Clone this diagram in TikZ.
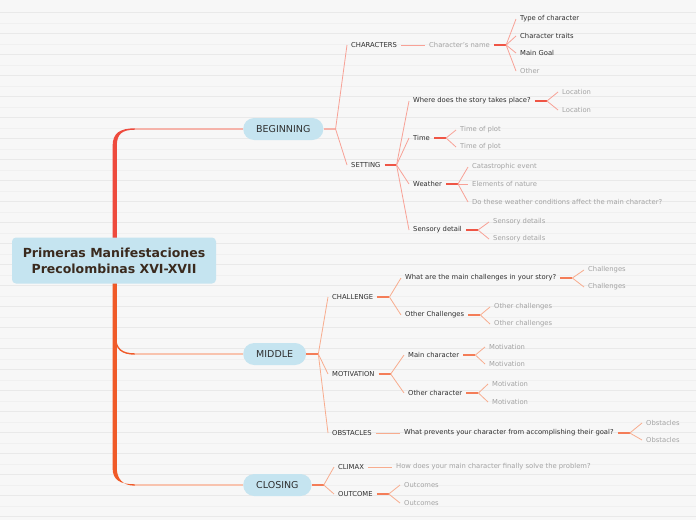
\documentclass[tikz,border=0pt]{standalone}
\usepackage{fontspec}
\setmainfont{DejaVu Sans}
\definecolor{bgc}{HTML}{F7F7F7}
\definecolor{bgline}{HTML}{E9E9E9}
\definecolor{bgfline}{HTML}{F0F0F0}
\definecolor{pillblue}{HTML}{C5E4F0}
\definecolor{roottext}{HTML}{3A2A1E}
\definecolor{darktext}{HTML}{2E2E2E}
\definecolor{graytext}{HTML}{A3A3A3}
\definecolor{trunkred}{HTML}{EE4A3D}
\definecolor{trunkorange}{HTML}{F05A28}
\definecolor{branchpink}{HTML}{F5B3AA}
\definecolor{branchorange}{HTML}{F8C3AE}
\definecolor{fanpink}{HTML}{F8A196}
\definecolor{stemred}{HTML}{EF5545}
\definecolor{fanorange}{HTML}{F8AC8E}
\definecolor{stemorange}{HTML}{F47D58}
\tikzset{
  leafd/.style={anchor=west, inner xsep=4pt, inner ysep=1pt, yshift=-1pt, text=darktext, font=\fontsize{6.8}{8}\selectfont},
  leafg/.style={leafd, text=graytext},
  pillnode/.style={anchor=west, fill=pillblue, rounded corners=11pt, minimum height=22pt, inner xsep=13pt, text=darktext, font=\fontsize{9.5}{11}\selectfont},
  rootnode/.style={fill=pillblue, rounded corners=4pt, minimum width=204pt, minimum height=46pt, align=center, text=roottext, font=\fontsize{12.5}{16}\selectfont\bfseries},
  fanB/.style={draw=fanpink, line width=0.8pt},
  stemB/.style={draw=stemred, line width=1.8pt},
  fanM/.style={draw=fanorange, line width=0.8pt},
  stemM/.style={draw=stemorange, line width=1.8pt},
  bgstrong/.style={draw=bgline, line width=0.7pt},
  bgfaint/.style={draw=bgfline, line width=0.6pt}
}
\begin{document}
\begin{tikzpicture}[x=1pt,y=-1pt]
\useasboundingbox[fill=bgc] (0,0) rectangle (696,520);
\foreach \k in {0,...,24}{
  \draw[bgstrong] (0,{12.7+21*\k}) -- (696,{12.7+21*\k});
  \draw[bgfaint] (0,{23.2+21*\k}) -- (696,{23.2+21*\k});
}
% trunk
\fill[trunkred] (112.6,262) -- (112.6,146) .. controls (112.6,133) and (120,128.3) .. (135,128.3) -- (135,129.7) .. controls (122,129.7) and (116.8,134) .. (116.8,146) -- (116.8,262) -- cycle;
\fill[trunkorange] (112.6,258) -- (112.6,468) .. controls (112.6,480) and (120,484.3) .. (135,484.3) -- (135,485.7) .. controls (122,485.7) and (116.8,478) .. (116.8,468) -- (116.8,258) -- cycle;
\draw[trunkorange, line width=1.4pt] (115.5,338) .. controls (116,349) and (122,354) .. (135,354);
% main nodes
\node[rootnode] (root) at (114,260.5) {Primeras Manifestaciones\\Precolombinas XVI-XVII};
\node[pillnode] (beg) at (243,129) {BEGINNING};
\node[pillnode] (mid) at (243,354) {MIDDLE};
\node[pillnode] (clo) at (243,485) {CLOSING};
\coordinate (hB) at (135,129);
\coordinate (hM) at (135,354);
\coordinate (hC) at (135,485);
\draw[draw=branchpink, line width=1.3pt] (hB) -- (beg.west);
\draw[draw=branchorange, line width=1.3pt] (hM) -- (mid.west);
\draw[draw=branchorange, line width=1.3pt] (hC) -- (clo.west);

% ---------- BEGINNING ----------
\node[leafd] (chars) at (347,44) {CHARACTERS};
\node[leafg] (cname) at (425,44) {Character's name};
\node[leafd] (t1) at (516,18) {Type of character};
\node[leafd] (t2) at (516,35) {Character traits};
\node[leafd] (t3) at (516,52) {Main Goal};
\node[leafg] (t4) at (516,70) {Other};
\node[leafd] (setting) at (347,164) {SETTING};
\node[leafd] (where) at (409,100) {Where does the story takes place?};
\node[leafd] (time) at (409,137) {Time};
\node[leafd] (weather) at (409,183) {Weather};
\node[leafd] (sensory) at (409,229) {Sensory detail};
\node[leafg] (loc1) at (558,91) {Location};
\node[leafg] (loc2) at (558,109) {Location};
\node[leafg] (tp1) at (456,129) {Time of plot};
\node[leafg] (tp2) at (456,146) {Time of plot};
\node[leafg] (w1) at (468,166) {Catastrophic event};
\node[leafg] (w2) at (468,183) {Elements of nature};
\node[leafg] (w3) at (468,201) {Do these weather conditions affect the main character?};
\node[leafg] (sd1) at (489,221) {Sensory details};
\node[leafg] (sd2) at (489,238) {Sensory details};

\coordinate (jB) at ([xshift=12pt]beg.east);
\draw[draw=branchpink, line width=1.3pt] (beg.east) -- (jB);
\draw[fanB] (jB) -- (chars.west);
\draw[fanB] (jB) -- (setting.west);
\draw[fanB] (chars.east) -- (cname.west);
\coordinate (jcn) at ([xshift=12pt]cname.east);
\draw[stemB] (cname.east) -- (jcn);
\foreach \n in {t1,t2,t3,t4}{\draw[fanB] (jcn) -- (\n.west);}
\coordinate (jst) at ([xshift=12pt]setting.east);
\draw[stemB] (setting.east) -- (jst);
\foreach \n in {where,time,weather,sensory}{\draw[fanB] (jst) -- (\n.west);}
\coordinate (jwh) at ([xshift=12pt]where.east);
\draw[stemB] (where.east) -- (jwh);
\foreach \n in {loc1,loc2}{\draw[fanB] (jwh) -- (\n.west);}
\coordinate (jti) at ([xshift=12pt]time.east);
\draw[stemB] (time.east) -- (jti);
\foreach \n in {tp1,tp2}{\draw[fanB] (jti) -- (\n.west);}
\coordinate (jwe) at ([xshift=12pt]weather.east);
\draw[stemB] (weather.east) -- (jwe);
\foreach \n in {w1,w2,w3}{\draw[fanB] (jwe) -- (\n.west);}
\coordinate (jse) at ([xshift=12pt]sensory.east);
\draw[stemB] (sensory.east) -- (jse);
\foreach \n in {sd1,sd2}{\draw[fanB] (jse) -- (\n.west);}

% ---------- MIDDLE ----------
\node[leafd] (challenge) at (328,296) {CHALLENGE};
\node[leafd] (whatc) at (401,277) {What are the main challenges in your story?};
\node[leafd] (otherc) at (401,314) {Other Challenges};
\node[leafg] (ch1) at (584,269) {Challenges};
\node[leafg] (ch2) at (584,286) {Challenges};
\node[leafg] (oc1) at (490,306) {Other challenges};
\node[leafg] (oc2) at (490,323) {Other challenges};
\node[leafd] (motivation) at (328,373) {MOTIVATION};
\node[leafd] (mainc) at (404,354) {Main character};
\node[leafd] (otherch) at (404,392) {Other character};
\node[leafg] (m1) at (485,346) {Motivation};
\node[leafg] (m2) at (485,363) {Motivation};
\node[leafg] (m3) at (488,383) {Motivation};
\node[leafg] (m4) at (488,401) {Motivation};
\node[leafd] (obstacles) at (328,432) {OBSTACLES};
\node[leafd] (prevent) at (400,432) {What prevents your character from accomplishing their goal?};
\node[leafg] (ob1) at (642,422) {Obstacles};
\node[leafg] (ob2) at (642,439) {Obstacles};

\coordinate (jM) at ([xshift=12pt]mid.east);
\draw[stemM] (mid.east) -- (jM);
\foreach \n in {challenge,motivation,obstacles}{\draw[fanM] (jM) -- (\n.west);}
\coordinate (jch) at ([xshift=12pt]challenge.east);
\draw[stemM] (challenge.east) -- (jch);
\foreach \n in {whatc,otherc}{\draw[fanM] (jch) -- (\n.west);}
\coordinate (jwc) at ([xshift=12pt]whatc.east);
\draw[stemM] (whatc.east) -- (jwc);
\foreach \n in {ch1,ch2}{\draw[fanM] (jwc) -- (\n.west);}
\coordinate (joc) at ([xshift=12pt]otherc.east);
\draw[stemM] (otherc.east) -- (joc);
\foreach \n in {oc1,oc2}{\draw[fanM] (joc) -- (\n.west);}
\coordinate (jmo) at ([xshift=12pt]motivation.east);
\draw[stemM] (motivation.east) -- (jmo);
\foreach \n in {mainc,otherch}{\draw[fanM] (jmo) -- (\n.west);}
\coordinate (jmc) at ([xshift=12pt]mainc.east);
\draw[stemM] (mainc.east) -- (jmc);
\foreach \n in {m1,m2}{\draw[fanM] (jmc) -- (\n.west);}
\coordinate (joh) at ([xshift=12pt]otherch.east);
\draw[stemM] (otherch.east) -- (joh);
\foreach \n in {m3,m4}{\draw[fanM] (joh) -- (\n.west);}
\draw[fanM] (obstacles.east) -- (prevent.west);
\coordinate (jpr) at ([xshift=12pt]prevent.east);
\draw[stemM] (prevent.east) -- (jpr);
\foreach \n in {ob1,ob2}{\draw[fanM] (jpr) -- (\n.west);}

% ---------- CLOSING ----------
\node[leafd] (climax) at (334,466) {CLIMAX};
\node[leafg] (how) at (392,466) {How does your main character finally solve the problem?};
\node[leafd] (outcome) at (334,493) {OUTCOME};
\node[leafg] (out1) at (400,484) {Outcomes};
\node[leafg] (out2) at (400,502) {Outcomes};
\coordinate (jC) at ([xshift=12pt]clo.east);
\draw[stemM] (clo.east) -- (jC);
\foreach \n in {climax,outcome}{\draw[fanM] (jC) -- (\n.west);}
\draw[fanM] (climax.east) -- (how.west);
\coordinate (jou) at ([xshift=12pt]outcome.east);
\draw[stemM] (outcome.east) -- (jou);
\foreach \n in {out1,out2}{\draw[fanM] (jou) -- (\n.west);}
\end{tikzpicture}
\end{document}
